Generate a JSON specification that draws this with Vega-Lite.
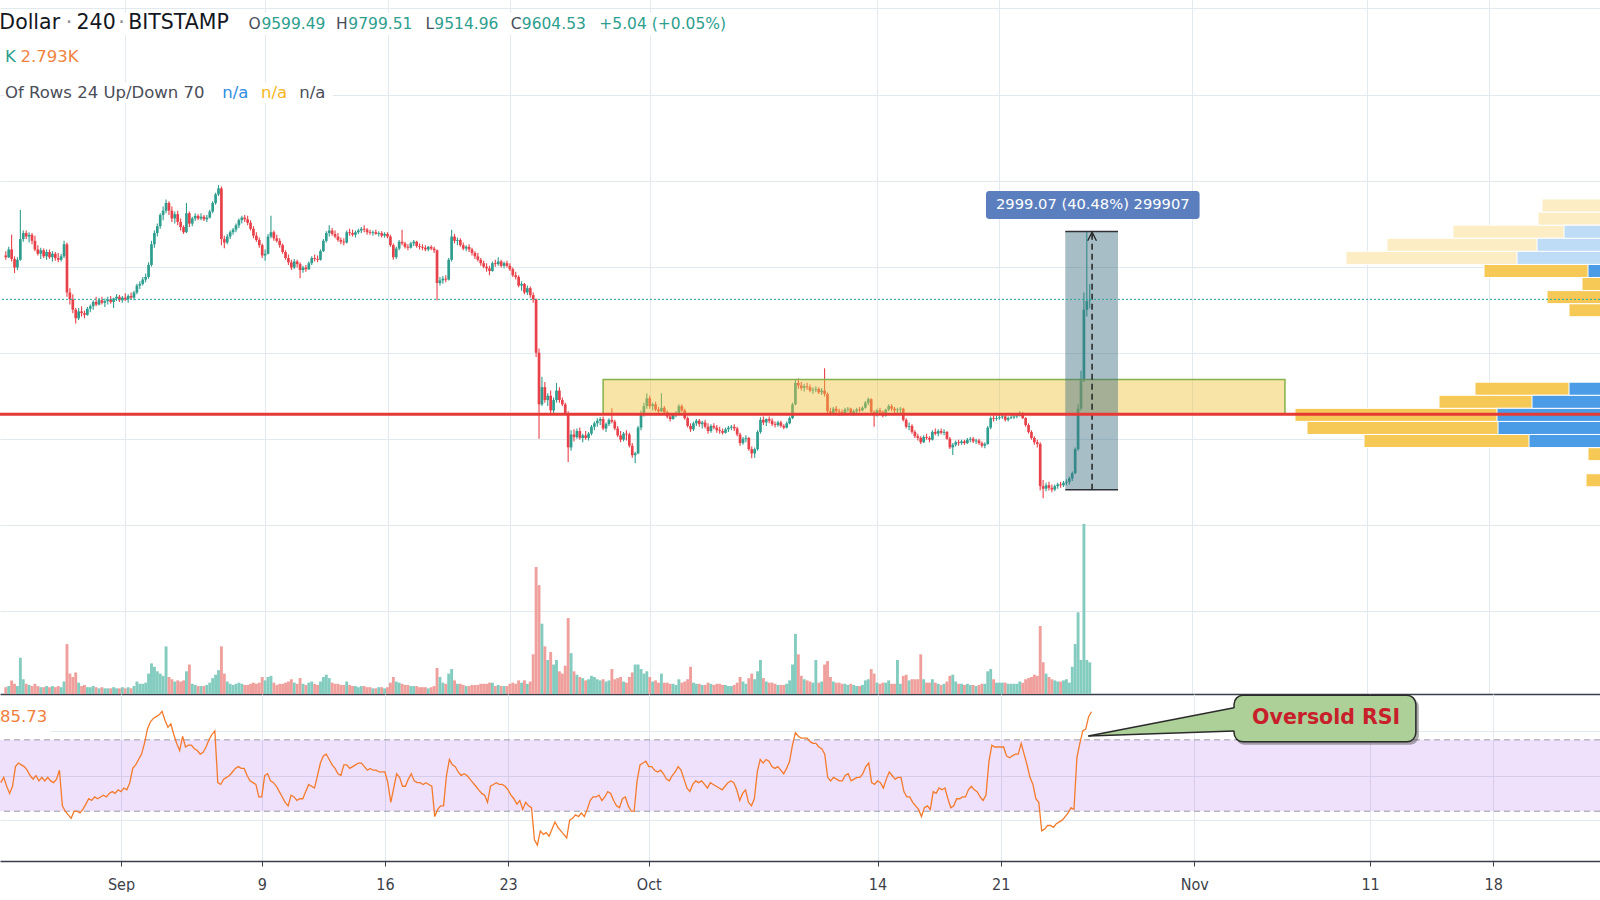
{
"$schema": "https://vega.github.io/schema/vega-lite/v6.json",
"padding": 0,
"spacing": 0,
"background": "#ffffff",
"config": {"view": {"stroke": null}, "font": "DejaVu Sans", "axis": {"minExtent": 0, "gridColor": "#e2e9ef", "gridWidth": 1}},
"datasets": {
"candles": [
{"i":1,"o":10130,"h":10180,"l":10080,"c":10110,"v":600,"r":46},
{"i":2,"o":10110,"h":10230,"l":10100,"c":10200,"v":700,"r":49},
{"i":3,"o":10200,"h":10370,"l":10060,"c":10090,"v":1200,"r":44},
{"i":4,"o":10090,"h":10120,"l":9925,"c":9990,"v":900,"r":40},
{"i":5,"o":9990,"h":10110,"l":9960,"c":10080,"v":700,"r":44},
{"i":6,"o":10080,"h":10657,"l":10070,"c":10320,"v":3200,"r":55},
{"i":7,"o":10320,"h":10420,"l":10290,"c":10390,"v":1300,"r":57},
{"i":8,"o":10390,"h":10420,"l":10320,"c":10350,"v":900,"r":56},
{"i":9,"o":10350,"h":10400,"l":10280,"c":10370,"v":800,"r":55},
{"i":10,"o":10370,"h":10390,"l":10260,"c":10300,"v":700,"r":53},
{"i":11,"o":10300,"h":10360,"l":10180,"c":10200,"v":900,"r":50},
{"i":12,"o":10200,"h":10250,"l":10130,"c":10150,"v":700,"r":48},
{"i":13,"o":10150,"h":10220,"l":10090,"c":10190,"v":600,"r":50},
{"i":14,"o":10190,"h":10210,"l":10100,"c":10120,"v":600,"r":47},
{"i":15,"o":10120,"h":10200,"l":10080,"c":10170,"v":700,"r":49},
{"i":16,"o":10170,"h":10200,"l":10090,"c":10110,"v":600,"r":47},
{"i":17,"o":10110,"h":10180,"l":10060,"c":10150,"v":700,"r":49},
{"i":18,"o":10150,"h":10170,"l":10070,"c":10100,"v":600,"r":47},
{"i":19,"o":10100,"h":10160,"l":10050,"c":10080,"v":700,"r":46},
{"i":20,"o":10080,"h":10150,"l":10060,"c":10120,"v":600,"r":48},
{"i":21,"o":10120,"h":10300,"l":10100,"c":10260,"v":1100,"r":53},
{"i":22,"o":10260,"h":10280,"l":9650,"c":9700,"v":4400,"r":33},
{"i":23,"o":9700,"h":9750,"l":9560,"c":9620,"v":1800,"r":30},
{"i":24,"o":9620,"h":9680,"l":9460,"c":9500,"v":1500,"r":28},
{"i":25,"o":9500,"h":9520,"l":9340,"c":9400,"v":1900,"r":26},
{"i":26,"o":9400,"h":9520,"l":9380,"c":9480,"v":1000,"r":30},
{"i":27,"o":9480,"h":9540,"l":9420,"c":9460,"v":700,"r":30},
{"i":28,"o":9460,"h":9490,"l":9400,"c":9440,"v":800,"r":29},
{"i":29,"o":9440,"h":9530,"l":9430,"c":9510,"v":600,"r":31},
{"i":30,"o":9510,"h":9560,"l":9470,"c":9540,"v":600,"r":34},
{"i":31,"o":9540,"h":9610,"l":9500,"c":9590,"v":700,"r":37},
{"i":32,"o":9590,"h":9650,"l":9540,"c":9560,"v":600,"r":36},
{"i":33,"o":9560,"h":9640,"l":9550,"c":9610,"v":500,"r":38},
{"i":34,"o":9610,"h":9650,"l":9560,"c":9580,"v":600,"r":37},
{"i":35,"o":9580,"h":9630,"l":9530,"c":9600,"v":500,"r":38},
{"i":36,"o":9600,"h":9650,"l":9560,"c":9620,"v":500,"r":39},
{"i":37,"o":9620,"h":9660,"l":9570,"c":9590,"v":500,"r":38},
{"i":38,"o":9590,"h":9640,"l":9520,"c":9630,"v":600,"r":40},
{"i":39,"o":9630,"h":9680,"l":9600,"c":9650,"v":500,"r":41},
{"i":40,"o":9650,"h":9670,"l":9590,"c":9610,"v":500,"r":40},
{"i":41,"o":9610,"h":9660,"l":9580,"c":9640,"v":600,"r":42},
{"i":42,"o":9640,"h":9690,"l":9600,"c":9620,"v":500,"r":41},
{"i":43,"o":9620,"h":9680,"l":9580,"c":9660,"v":600,"r":43},
{"i":44,"o":9660,"h":9700,"l":9620,"c":9640,"v":500,"r":42},
{"i":45,"o":9640,"h":9720,"l":9610,"c":9700,"v":700,"r":46},
{"i":46,"o":9700,"h":9800,"l":9680,"c":9780,"v":1100,"r":54},
{"i":47,"o":9780,"h":9830,"l":9740,"c":9800,"v":900,"r":56},
{"i":48,"o":9800,"h":9880,"l":9780,"c":9850,"v":900,"r":59},
{"i":49,"o":9850,"h":9920,"l":9820,"c":9880,"v":1000,"r":62},
{"i":50,"o":9880,"h":10050,"l":9860,"c":10020,"v":1800,"r":68},
{"i":51,"o":10020,"h":10300,"l":10000,"c":10260,"v":2700,"r":76},
{"i":52,"o":10260,"h":10420,"l":10220,"c":10390,"v":2400,"r":80},
{"i":53,"o":10390,"h":10500,"l":10350,"c":10470,"v":2000,"r":82},
{"i":54,"o":10470,"h":10620,"l":10440,"c":10600,"v":1800,"r":83},
{"i":55,"o":10600,"h":10700,"l":10540,"c":10650,"v":1600,"r":84},
{"i":56,"o":10650,"h":10780,"l":10620,"c":10740,"v":4200,"r":86},
{"i":57,"o":10740,"h":10760,"l":10600,"c":10650,"v":1500,"r":81},
{"i":58,"o":10650,"h":10700,"l":10520,"c":10560,"v":1300,"r":77},
{"i":59,"o":10560,"h":10640,"l":10500,"c":10610,"v":1100,"r":79},
{"i":60,"o":10610,"h":10650,"l":10480,"c":10520,"v":1200,"r":73},
{"i":61,"o":10520,"h":10560,"l":10420,"c":10460,"v":1100,"r":68},
{"i":62,"o":10460,"h":10480,"l":10380,"c":10400,"v":1200,"r":64},
{"i":63,"o":10400,"h":10740,"l":10390,"c":10620,"v":2000,"r":72},
{"i":64,"o":10620,"h":10640,"l":10460,"c":10500,"v":2600,"r":66},
{"i":65,"o":10500,"h":10580,"l":10470,"c":10560,"v":900,"r":67},
{"i":66,"o":10560,"h":10620,"l":10530,"c":10590,"v":800,"r":67},
{"i":67,"o":10590,"h":10610,"l":10540,"c":10560,"v":700,"r":65},
{"i":68,"o":10560,"h":10620,"l":10540,"c":10580,"v":700,"r":64},
{"i":69,"o":10580,"h":10600,"l":10530,"c":10550,"v":700,"r":62},
{"i":70,"o":10550,"h":10600,"l":10520,"c":10570,"v":800,"r":63},
{"i":71,"o":10570,"h":10660,"l":10560,"c":10640,"v":1000,"r":66},
{"i":72,"o":10640,"h":10760,"l":10620,"c":10740,"v":1400,"r":70},
{"i":73,"o":10740,"h":10860,"l":10720,"c":10840,"v":1700,"r":73},
{"i":74,"o":10840,"h":10950,"l":10820,"c":10910,"v":2100,"r":75},
{"i":75,"o":10910,"h":10930,"l":10250,"c":10320,"v":4200,"r":46},
{"i":76,"o":10320,"h":10360,"l":10215,"c":10280,"v":1800,"r":45},
{"i":77,"o":10280,"h":10380,"l":10260,"c":10350,"v":1100,"r":48},
{"i":78,"o":10350,"h":10420,"l":10320,"c":10400,"v":900,"r":49},
{"i":79,"o":10400,"h":10450,"l":10370,"c":10430,"v":800,"r":50},
{"i":80,"o":10430,"h":10500,"l":10400,"c":10480,"v":900,"r":52},
{"i":81,"o":10480,"h":10560,"l":10450,"c":10540,"v":1000,"r":54},
{"i":82,"o":10540,"h":10590,"l":10500,"c":10570,"v":900,"r":55},
{"i":83,"o":10570,"h":10600,"l":10520,"c":10550,"v":800,"r":54},
{"i":84,"o":10550,"h":10590,"l":10480,"c":10510,"v":800,"r":54},
{"i":85,"o":10510,"h":10540,"l":10420,"c":10440,"v":900,"r":50},
{"i":86,"o":10440,"h":10470,"l":10330,"c":10360,"v":1000,"r":47},
{"i":87,"o":10360,"h":10400,"l":10290,"c":10310,"v":900,"r":46},
{"i":88,"o":10310,"h":10340,"l":10220,"c":10250,"v":1000,"r":45},
{"i":89,"o":10250,"h":10270,"l":10100,"c":10130,"v":1500,"r":38},
{"i":90,"o":10130,"h":10200,"l":10070,"c":10150,"v":1200,"r":38},
{"i":91,"o":10150,"h":10380,"l":10140,"c":10350,"v":1500,"r":50},
{"i":92,"o":10350,"h":10590,"l":10330,"c":10400,"v":1600,"r":51},
{"i":93,"o":10400,"h":10420,"l":10300,"c":10330,"v":1000,"r":47},
{"i":94,"o":10330,"h":10370,"l":10280,"c":10300,"v":800,"r":46},
{"i":95,"o":10300,"h":10330,"l":10220,"c":10250,"v":900,"r":44},
{"i":96,"o":10250,"h":10270,"l":10150,"c":10170,"v":900,"r":41},
{"i":97,"o":10170,"h":10190,"l":10080,"c":10100,"v":1000,"r":38},
{"i":98,"o":10100,"h":10140,"l":10020,"c":10050,"v":1100,"r":35},
{"i":99,"o":10050,"h":10080,"l":9960,"c":9990,"v":1300,"r":33},
{"i":100,"o":9990,"h":10090,"l":9970,"c":10060,"v":1000,"r":39},
{"i":101,"o":10060,"h":10080,"l":9990,"c":10030,"v":900,"r":38},
{"i":102,"o":10030,"h":10050,"l":9865,"c":9960,"v":1400,"r":36},
{"i":103,"o":9960,"h":10010,"l":9930,"c":9990,"v":900,"r":37},
{"i":104,"o":9990,"h":10020,"l":9940,"c":9970,"v":800,"r":37},
{"i":105,"o":9970,"h":10060,"l":9960,"c":10040,"v":1000,"r":41},
{"i":106,"o":10040,"h":10120,"l":10020,"c":10100,"v":1100,"r":45},
{"i":107,"o":10100,"h":10140,"l":10060,"c":10090,"v":900,"r":44},
{"i":108,"o":10090,"h":10130,"l":10050,"c":10080,"v":800,"r":43},
{"i":109,"o":10080,"h":10200,"l":10070,"c":10180,"v":1100,"r":50},
{"i":110,"o":10180,"h":10320,"l":10170,"c":10300,"v":1500,"r":57},
{"i":111,"o":10300,"h":10410,"l":10280,"c":10390,"v":1700,"r":61},
{"i":112,"o":10390,"h":10480,"l":10350,"c":10420,"v":1400,"r":62},
{"i":113,"o":10420,"h":10450,"l":10360,"c":10380,"v":1000,"r":59},
{"i":114,"o":10380,"h":10420,"l":10330,"c":10350,"v":900,"r":56},
{"i":115,"o":10350,"h":10390,"l":10290,"c":10310,"v":900,"r":54},
{"i":116,"o":10310,"h":10340,"l":10260,"c":10290,"v":800,"r":51},
{"i":117,"o":10290,"h":10330,"l":10250,"c":10280,"v":800,"r":50},
{"i":118,"o":10280,"h":10420,"l":10270,"c":10400,"v":1100,"r":56},
{"i":119,"o":10400,"h":10440,"l":10360,"c":10390,"v":800,"r":56},
{"i":120,"o":10390,"h":10430,"l":10350,"c":10370,"v":700,"r":54},
{"i":121,"o":10370,"h":10420,"l":10340,"c":10400,"v":700,"r":55},
{"i":122,"o":10400,"h":10440,"l":10380,"c":10420,"v":600,"r":56},
{"i":123,"o":10420,"h":10460,"l":10390,"c":10440,"v":700,"r":57},
{"i":124,"o":10440,"h":10480,"l":10400,"c":10430,"v":700,"r":57},
{"i":125,"o":10430,"h":10450,"l":10370,"c":10400,"v":600,"r":55},
{"i":126,"o":10400,"h":10430,"l":10370,"c":10390,"v":600,"r":53},
{"i":127,"o":10390,"h":10420,"l":10360,"c":10400,"v":500,"r":54},
{"i":128,"o":10400,"h":10430,"l":10370,"c":10380,"v":500,"r":53},
{"i":129,"o":10380,"h":10410,"l":10350,"c":10390,"v":600,"r":53},
{"i":130,"o":10390,"h":10410,"l":10340,"c":10360,"v":600,"r":52},
{"i":131,"o":10360,"h":10400,"l":10340,"c":10380,"v":500,"r":52},
{"i":132,"o":10380,"h":10400,"l":10330,"c":10350,"v":600,"r":52},
{"i":133,"o":10350,"h":10370,"l":10230,"c":10250,"v":1000,"r":46},
{"i":134,"o":10250,"h":10270,"l":10080,"c":10110,"v":1500,"r":35},
{"i":135,"o":10110,"h":10230,"l":10090,"c":10210,"v":1100,"r":43},
{"i":136,"o":10210,"h":10310,"l":10190,"c":10290,"v":1000,"r":51},
{"i":137,"o":10290,"h":10430,"l":10250,"c":10270,"v":900,"r":49},
{"i":138,"o":10270,"h":10290,"l":10210,"c":10230,"v":800,"r":44},
{"i":139,"o":10230,"h":10260,"l":10190,"c":10220,"v":800,"r":44},
{"i":140,"o":10220,"h":10290,"l":10210,"c":10270,"v":700,"r":48},
{"i":141,"o":10270,"h":10310,"l":10240,"c":10290,"v":700,"r":51},
{"i":142,"o":10290,"h":10300,"l":10220,"c":10240,"v":700,"r":47},
{"i":143,"o":10240,"h":10270,"l":10200,"c":10230,"v":600,"r":46},
{"i":144,"o":10230,"h":10260,"l":10190,"c":10220,"v":600,"r":46},
{"i":145,"o":10220,"h":10250,"l":10180,"c":10200,"v":600,"r":45},
{"i":146,"o":10200,"h":10240,"l":10180,"c":10230,"v":500,"r":46},
{"i":147,"o":10230,"h":10250,"l":10190,"c":10210,"v":600,"r":45},
{"i":148,"o":10210,"h":10230,"l":10160,"c":10190,"v":700,"r":44},
{"i":149,"o":10190,"h":10200,"l":9610,"c":9810,"v":2300,"r":27},
{"i":150,"o":9810,"h":9880,"l":9780,"c":9840,"v":1500,"r":31},
{"i":151,"o":9840,"h":9890,"l":9800,"c":9860,"v":1000,"r":33},
{"i":152,"o":9860,"h":9900,"l":9820,"c":9850,"v":900,"r":33},
{"i":153,"o":9850,"h":10100,"l":9840,"c":10080,"v":1800,"r":50},
{"i":154,"o":10080,"h":10430,"l":10060,"c":10350,"v":2200,"r":59},
{"i":155,"o":10350,"h":10380,"l":10270,"c":10300,"v":1200,"r":56},
{"i":156,"o":10300,"h":10340,"l":10250,"c":10310,"v":900,"r":55},
{"i":157,"o":10310,"h":10330,"l":10230,"c":10250,"v":900,"r":52},
{"i":158,"o":10250,"h":10280,"l":10190,"c":10210,"v":800,"r":50},
{"i":159,"o":10210,"h":10250,"l":10180,"c":10230,"v":700,"r":51},
{"i":160,"o":10230,"h":10260,"l":10170,"c":10200,"v":700,"r":50},
{"i":161,"o":10200,"h":10220,"l":10130,"c":10160,"v":800,"r":48},
{"i":162,"o":10160,"h":10180,"l":10090,"c":10120,"v":800,"r":46},
{"i":163,"o":10120,"h":10160,"l":10060,"c":10080,"v":800,"r":44},
{"i":164,"o":10080,"h":10100,"l":10010,"c":10040,"v":900,"r":42},
{"i":165,"o":10040,"h":10070,"l":9980,"c":10000,"v":900,"r":40},
{"i":166,"o":10000,"h":10040,"l":9940,"c":9980,"v":900,"r":39},
{"i":167,"o":9980,"h":10010,"l":9900,"c":9950,"v":1000,"r":35},
{"i":168,"o":9950,"h":10060,"l":9940,"c":10040,"v":1000,"r":44},
{"i":169,"o":10040,"h":10080,"l":10000,"c":10030,"v":700,"r":45},
{"i":170,"o":10030,"h":10110,"l":10010,"c":10060,"v":800,"r":46},
{"i":171,"o":10060,"h":10080,"l":9990,"c":10010,"v":700,"r":45},
{"i":172,"o":10010,"h":10060,"l":9980,"c":10040,"v":700,"r":45},
{"i":173,"o":10040,"h":10070,"l":9990,"c":10010,"v":700,"r":44},
{"i":174,"o":10010,"h":10040,"l":9950,"c":9970,"v":900,"r":42},
{"i":175,"o":9970,"h":9990,"l":9880,"c":9900,"v":1000,"r":39},
{"i":176,"o":9900,"h":9940,"l":9850,"c":9880,"v":900,"r":37},
{"i":177,"o":9880,"h":9900,"l":9760,"c":9780,"v":1200,"r":34},
{"i":178,"o":9780,"h":9830,"l":9720,"c":9800,"v":1000,"r":36},
{"i":179,"o":9800,"h":9810,"l":9680,"c":9700,"v":1200,"r":31},
{"i":180,"o":9700,"h":9780,"l":9670,"c":9750,"v":900,"r":35},
{"i":181,"o":9750,"h":9770,"l":9640,"c":9670,"v":1100,"r":33},
{"i":182,"o":9670,"h":9700,"l":9580,"c":9620,"v":3500,"r":32},
{"i":183,"o":9620,"h":9630,"l":8950,"c":9000,"v":11200,"r":14},
{"i":184,"o":9000,"h":9050,"l":8000,"c":8400,"v":9600,"r":11},
{"i":185,"o":8400,"h":8720,"l":8380,"c":8600,"v":6200,"r":19},
{"i":186,"o":8600,"h":8660,"l":8420,"c":8450,"v":4200,"r":17},
{"i":187,"o":8450,"h":8530,"l":8380,"c":8500,"v":3000,"r":18},
{"i":188,"o":8500,"h":8560,"l":8300,"c":8330,"v":3700,"r":16},
{"i":189,"o":8330,"h":8480,"l":8300,"c":8450,"v":2600,"r":20},
{"i":190,"o":8450,"h":8650,"l":8420,"c":8560,"v":3000,"r":24},
{"i":191,"o":8560,"h":8600,"l":8420,"c":8450,"v":2000,"r":21},
{"i":192,"o":8450,"h":8480,"l":8380,"c":8400,"v":1800,"r":19},
{"i":193,"o":8400,"h":8420,"l":8280,"c":8300,"v":2500,"r":17},
{"i":194,"o":8300,"h":8320,"l":7730,"c":7900,"v":6700,"r":15},
{"i":195,"o":7900,"h":8100,"l":7860,"c":8050,"v":3600,"r":25},
{"i":196,"o":8050,"h":8110,"l":7970,"c":8020,"v":2000,"r":26},
{"i":197,"o":8020,"h":8120,"l":8000,"c":8090,"v":1700,"r":28},
{"i":198,"o":8090,"h":8130,"l":7990,"c":8010,"v":1500,"r":27},
{"i":199,"o":8010,"h":8060,"l":7960,"c":8040,"v":1400,"r":29},
{"i":200,"o":8040,"h":8090,"l":7990,"c":8010,"v":1200,"r":27},
{"i":201,"o":8010,"h":8080,"l":7980,"c":8060,"v":1300,"r":31},
{"i":202,"o":8060,"h":8160,"l":8040,"c":8140,"v":1600,"r":36},
{"i":203,"o":8140,"h":8200,"l":8100,"c":8180,"v":1500,"r":38},
{"i":204,"o":8180,"h":8240,"l":8140,"c":8210,"v":1300,"r":38},
{"i":205,"o":8210,"h":8250,"l":8160,"c":8230,"v":1200,"r":39},
{"i":206,"o":8230,"h":8260,"l":8100,"c":8120,"v":1300,"r":36},
{"i":207,"o":8120,"h":8190,"l":8080,"c":8170,"v":1100,"r":38},
{"i":208,"o":8170,"h":8240,"l":8150,"c":8220,"v":1200,"r":41},
{"i":209,"o":8220,"h":8354,"l":8180,"c":8200,"v":2200,"r":40},
{"i":210,"o":8200,"h":8220,"l":8100,"c":8120,"v":1300,"r":36},
{"i":211,"o":8120,"h":8150,"l":8020,"c":8040,"v":1400,"r":33},
{"i":212,"o":8040,"h":8090,"l":7960,"c":7990,"v":1500,"r":32},
{"i":213,"o":7990,"h":8080,"l":7970,"c":8060,"v":1100,"r":37},
{"i":214,"o":8060,"h":8100,"l":7980,"c":8050,"v":1000,"r":38},
{"i":215,"o":8050,"h":8070,"l":7900,"c":7920,"v":1500,"r":33},
{"i":216,"o":7920,"h":7950,"l":7780,"c":7810,"v":1900,"r":30},
{"i":217,"o":7810,"h":7850,"l":7716,"c":7830,"v":2600,"r":30},
{"i":218,"o":7830,"h":8150,"l":7820,"c":8130,"v":2600,"r":47},
{"i":219,"o":8130,"h":8330,"l":8100,"c":8300,"v":2200,"r":56},
{"i":220,"o":8300,"h":8420,"l":8260,"c":8380,"v":1800,"r":57},
{"i":221,"o":8380,"h":8528,"l":8350,"c":8470,"v":2000,"r":58},
{"i":222,"o":8470,"h":8500,"l":8350,"c":8380,"v":1500,"r":55},
{"i":223,"o":8380,"h":8420,"l":8330,"c":8400,"v":1100,"r":55},
{"i":224,"o":8400,"h":8430,"l":8320,"c":8340,"v":1200,"r":53},
{"i":225,"o":8340,"h":8370,"l":8300,"c":8320,"v":1000,"r":52},
{"i":226,"o":8320,"h":8528,"l":8310,"c":8360,"v":1800,"r":53},
{"i":227,"o":8360,"h":8380,"l":8290,"c":8310,"v":1000,"r":51},
{"i":228,"o":8310,"h":8330,"l":8240,"c":8260,"v":1000,"r":48},
{"i":229,"o":8260,"h":8290,"l":8200,"c":8230,"v":900,"r":47},
{"i":230,"o":8230,"h":8300,"l":8220,"c":8280,"v":900,"r":50},
{"i":231,"o":8280,"h":8320,"l":8250,"c":8300,"v":800,"r":52},
{"i":232,"o":8300,"h":8400,"l":8280,"c":8380,"v":1300,"r":55},
{"i":233,"o":8380,"h":8400,"l":8310,"c":8330,"v":1000,"r":53},
{"i":234,"o":8330,"h":8350,"l":8220,"c":8240,"v":1100,"r":48},
{"i":235,"o":8240,"h":8260,"l":8130,"c":8150,"v":1300,"r":43},
{"i":236,"o":8150,"h":8180,"l":8080,"c":8110,"v":2400,"r":41},
{"i":237,"o":8110,"h":8200,"l":8090,"c":8180,"v":1000,"r":45},
{"i":238,"o":8180,"h":8230,"l":8150,"c":8210,"v":900,"r":47},
{"i":239,"o":8210,"h":8230,"l":8140,"c":8170,"v":900,"r":46},
{"i":240,"o":8170,"h":8210,"l":8120,"c":8190,"v":800,"r":47},
{"i":241,"o":8190,"h":8220,"l":8120,"c":8140,"v":800,"r":45},
{"i":242,"o":8140,"h":8180,"l":8060,"c":8090,"v":1000,"r":43},
{"i":243,"o":8090,"h":8170,"l":8070,"c":8150,"v":900,"r":46},
{"i":244,"o":8150,"h":8180,"l":8110,"c":8130,"v":800,"r":45},
{"i":245,"o":8130,"h":8160,"l":8070,"c":8100,"v":900,"r":44},
{"i":246,"o":8100,"h":8140,"l":8060,"c":8090,"v":900,"r":43},
{"i":247,"o":8090,"h":8120,"l":8050,"c":8070,"v":800,"r":42},
{"i":248,"o":8070,"h":8130,"l":8060,"c":8110,"v":800,"r":44},
{"i":249,"o":8110,"h":8150,"l":8080,"c":8130,"v":700,"r":46},
{"i":250,"o":8130,"h":8160,"l":8100,"c":8140,"v":700,"r":47},
{"i":251,"o":8140,"h":8170,"l":8090,"c":8120,"v":800,"r":46},
{"i":252,"o":8120,"h":8140,"l":8030,"c":8050,"v":1000,"r":42},
{"i":253,"o":8050,"h":8070,"l":7920,"c":7950,"v":1500,"r":36},
{"i":254,"o":7950,"h":8020,"l":7930,"c":8000,"v":1100,"r":40},
{"i":255,"o":8000,"h":8040,"l":7960,"c":8010,"v":900,"r":42},
{"i":256,"o":8010,"h":8020,"l":7860,"c":7880,"v":1400,"r":35},
{"i":257,"o":7880,"h":7910,"l":7773,"c":7830,"v":1800,"r":33},
{"i":258,"o":7830,"h":7900,"l":7780,"c":7880,"v":1300,"r":37},
{"i":259,"o":7880,"h":8100,"l":7860,"c":8080,"v":2000,"r":52},
{"i":260,"o":8080,"h":8250,"l":8060,"c":8220,"v":3000,"r":59},
{"i":261,"o":8220,"h":8260,"l":8160,"c":8190,"v":1400,"r":57},
{"i":262,"o":8190,"h":8240,"l":8150,"c":8230,"v":1100,"r":59},
{"i":263,"o":8230,"h":8260,"l":8180,"c":8210,"v":1000,"r":58},
{"i":264,"o":8210,"h":8240,"l":8150,"c":8170,"v":1000,"r":55},
{"i":265,"o":8170,"h":8200,"l":8130,"c":8160,"v":900,"r":54},
{"i":266,"o":8160,"h":8210,"l":8140,"c":8190,"v":800,"r":55},
{"i":267,"o":8190,"h":8210,"l":8130,"c":8150,"v":800,"r":53},
{"i":268,"o":8150,"h":8170,"l":8110,"c":8130,"v":800,"r":51},
{"i":269,"o":8130,"h":8200,"l":8120,"c":8180,"v":900,"r":54},
{"i":270,"o":8180,"h":8260,"l":8170,"c":8240,"v":1200,"r":58},
{"i":271,"o":8240,"h":8420,"l":8230,"c":8400,"v":2600,"r":67},
{"i":272,"o":8400,"h":8690,"l":8390,"c":8650,"v":5300,"r":74},
{"i":273,"o":8650,"h":8700,"l":8580,"c":8620,"v":3500,"r":72},
{"i":274,"o":8620,"h":8660,"l":8560,"c":8590,"v":1600,"r":71},
{"i":275,"o":8590,"h":8640,"l":8550,"c":8610,"v":1300,"r":71},
{"i":276,"o":8610,"h":8650,"l":8570,"c":8600,"v":1200,"r":71},
{"i":277,"o":8600,"h":8630,"l":8540,"c":8560,"v":1100,"r":69},
{"i":278,"o":8560,"h":8600,"l":8520,"c":8570,"v":1000,"r":68},
{"i":279,"o":8570,"h":8610,"l":8540,"c":8580,"v":3000,"r":68},
{"i":280,"o":8580,"h":8600,"l":8520,"c":8540,"v":1000,"r":66},
{"i":281,"o":8540,"h":8590,"l":8510,"c":8560,"v":1100,"r":65},
{"i":282,"o":8560,"h":8819,"l":8490,"c":8520,"v":2600,"r":62},
{"i":283,"o":8520,"h":8540,"l":8290,"c":8320,"v":2900,"r":49},
{"i":284,"o":8320,"h":8360,"l":8280,"c":8300,"v":1500,"r":47},
{"i":285,"o":8300,"h":8370,"l":8290,"c":8350,"v":1100,"r":49},
{"i":286,"o":8350,"h":8380,"l":8300,"c":8320,"v":1000,"r":48},
{"i":287,"o":8320,"h":8350,"l":8270,"c":8310,"v":1000,"r":47},
{"i":288,"o":8310,"h":8340,"l":8270,"c":8300,"v":900,"r":47},
{"i":289,"o":8300,"h":8360,"l":8290,"c":8340,"v":900,"r":50},
{"i":290,"o":8340,"h":8370,"l":8310,"c":8350,"v":800,"r":51},
{"i":291,"o":8350,"h":8360,"l":8280,"c":8300,"v":900,"r":47},
{"i":292,"o":8300,"h":8340,"l":8270,"c":8320,"v":800,"r":48},
{"i":293,"o":8320,"h":8360,"l":8300,"c":8340,"v":700,"r":49},
{"i":294,"o":8340,"h":8370,"l":8310,"c":8330,"v":700,"r":49},
{"i":295,"o":8330,"h":8380,"l":8320,"c":8360,"v":800,"r":51},
{"i":296,"o":8360,"h":8440,"l":8350,"c":8420,"v":1200,"r":55},
{"i":297,"o":8420,"h":8480,"l":8390,"c":8460,"v":1300,"r":57},
{"i":298,"o":8460,"h":8470,"l":8290,"c":8310,"v":2200,"r":46},
{"i":299,"o":8310,"h":8330,"l":8141,"c":8300,"v":1800,"r":45},
{"i":300,"o":8300,"h":8350,"l":8260,"c":8330,"v":1000,"r":47},
{"i":301,"o":8330,"h":8360,"l":8290,"c":8310,"v":900,"r":46},
{"i":302,"o":8310,"h":8330,"l":8250,"c":8270,"v":1000,"r":43},
{"i":303,"o":8270,"h":8350,"l":8260,"c":8340,"v":1000,"r":48},
{"i":304,"o":8340,"h":8400,"l":8320,"c":8380,"v":1200,"r":52},
{"i":305,"o":8380,"h":8400,"l":8320,"c":8350,"v":900,"r":50},
{"i":306,"o":8350,"h":8370,"l":8300,"c":8330,"v":900,"r":48},
{"i":307,"o":8330,"h":8360,"l":8280,"c":8340,"v":3000,"r":49},
{"i":308,"o":8340,"h":8370,"l":8300,"c":8350,"v":900,"r":49},
{"i":309,"o":8350,"h":8360,"l":8200,"c":8220,"v":1600,"r":41},
{"i":310,"o":8220,"h":8240,"l":8120,"c":8140,"v":1700,"r":38},
{"i":311,"o":8140,"h":8190,"l":8100,"c":8150,"v":1200,"r":38},
{"i":312,"o":8150,"h":8170,"l":8060,"c":8080,"v":1300,"r":35},
{"i":313,"o":8080,"h":8100,"l":8010,"c":8030,"v":1300,"r":33},
{"i":314,"o":8030,"h":8060,"l":7980,"c":8010,"v":1300,"r":31},
{"i":315,"o":8010,"h":8030,"l":7940,"c":7960,"v":3500,"r":27},
{"i":316,"o":7960,"h":8040,"l":7950,"c":8020,"v":1300,"r":32},
{"i":317,"o":8020,"h":8060,"l":7990,"c":8010,"v":1000,"r":33},
{"i":318,"o":8010,"h":8030,"l":7960,"c":7990,"v":1000,"r":31},
{"i":319,"o":7990,"h":8100,"l":7980,"c":8080,"v":1300,"r":41},
{"i":320,"o":8080,"h":8120,"l":8040,"c":8060,"v":1000,"r":40},
{"i":321,"o":8060,"h":8110,"l":8030,"c":8090,"v":900,"r":43},
{"i":322,"o":8090,"h":8120,"l":8050,"c":8070,"v":800,"r":42},
{"i":323,"o":8070,"h":8110,"l":8040,"c":8080,"v":900,"r":43},
{"i":324,"o":8080,"h":8090,"l":7990,"c":8000,"v":1100,"r":37},
{"i":325,"o":8000,"h":8020,"l":7880,"c":7900,"v":1600,"r":32},
{"i":326,"o":7900,"h":7950,"l":7812,"c":7930,"v":1700,"r":33},
{"i":327,"o":7930,"h":7980,"l":7910,"c":7960,"v":1100,"r":37},
{"i":328,"o":7960,"h":7990,"l":7920,"c":7950,"v":900,"r":37},
{"i":329,"o":7950,"h":7990,"l":7930,"c":7970,"v":900,"r":38},
{"i":330,"o":7970,"h":7990,"l":7930,"c":7950,"v":800,"r":38},
{"i":331,"o":7950,"h":8010,"l":7940,"c":7990,"v":900,"r":42},
{"i":332,"o":7990,"h":8020,"l":7960,"c":8000,"v":800,"r":44},
{"i":333,"o":8000,"h":8020,"l":7950,"c":7970,"v":800,"r":42},
{"i":334,"o":7970,"h":8000,"l":7940,"c":7980,"v":700,"r":41},
{"i":335,"o":7980,"h":8000,"l":7930,"c":7950,"v":800,"r":38},
{"i":336,"o":7950,"h":7970,"l":7900,"c":7920,"v":900,"r":36},
{"i":337,"o":7920,"h":7960,"l":7890,"c":7940,"v":900,"r":39},
{"i":338,"o":7940,"h":8150,"l":7930,"c":8130,"v":2000,"r":58},
{"i":339,"o":8130,"h":8260,"l":8110,"c":8240,"v":2200,"r":67},
{"i":340,"o":8240,"h":8270,"l":8200,"c":8230,"v":1300,"r":66},
{"i":341,"o":8230,"h":8270,"l":8210,"c":8240,"v":1000,"r":66},
{"i":342,"o":8240,"h":8280,"l":8220,"c":8250,"v":1000,"r":66},
{"i":343,"o":8250,"h":8300,"l":8230,"c":8260,"v":1000,"r":66},
{"i":344,"o":8260,"h":8280,"l":8200,"c":8220,"v":1000,"r":61},
{"i":345,"o":8220,"h":8260,"l":8200,"c":8240,"v":900,"r":60},
{"i":346,"o":8240,"h":8280,"l":8230,"c":8250,"v":900,"r":61},
{"i":347,"o":8250,"h":8290,"l":8230,"c":8260,"v":900,"r":62},
{"i":348,"o":8260,"h":8290,"l":8240,"c":8270,"v":900,"r":62},
{"i":349,"o":8270,"h":8320,"l":8260,"c":8300,"v":1100,"r":68},
{"i":350,"o":8300,"h":8310,"l":8230,"c":8240,"v":1000,"r":62},
{"i":351,"o":8240,"h":8250,"l":8140,"c":8160,"v":1300,"r":56},
{"i":352,"o":8160,"h":8180,"l":8060,"c":8080,"v":1400,"r":49},
{"i":353,"o":8080,"h":8100,"l":7990,"c":8010,"v":1500,"r":45},
{"i":354,"o":8010,"h":8030,"l":7930,"c":7960,"v":1700,"r":37},
{"i":355,"o":7960,"h":7990,"l":7900,"c":7940,"v":1600,"r":35},
{"i":356,"o":7940,"h":7960,"l":7400,"c":7450,"v":6000,"r":19},
{"i":357,"o":7450,"h":7520,"l":7309,"c":7420,"v":2800,"r":20},
{"i":358,"o":7420,"h":7490,"l":7390,"c":7460,"v":1800,"r":22},
{"i":359,"o":7460,"h":7500,"l":7400,"c":7430,"v":1500,"r":22},
{"i":360,"o":7430,"h":7470,"l":7380,"c":7410,"v":1300,"r":21},
{"i":361,"o":7410,"h":7470,"l":7390,"c":7450,"v":1200,"r":23},
{"i":362,"o":7450,"h":7490,"l":7420,"c":7470,"v":1100,"r":24},
{"i":363,"o":7470,"h":7500,"l":7430,"c":7460,"v":1100,"r":25},
{"i":364,"o":7460,"h":7510,"l":7440,"c":7490,"v":1200,"r":27},
{"i":365,"o":7490,"h":7530,"l":7460,"c":7500,"v":1300,"r":29},
{"i":366,"o":7500,"h":7560,"l":7470,"c":7540,"v":1000,"r":32},
{"i":367,"o":7540,"h":7620,"l":7510,"c":7600,"v":2400,"r":31},
{"i":368,"o":7600,"h":7900,"l":7590,"c":7880,"v":4400,"r":60},
{"i":369,"o":7880,"h":8400,"l":7860,"c":8350,"v":7200,"r":68},
{"i":370,"o":8350,"h":8790,"l":8330,"c":8680,"v":3000,"r":75},
{"i":371,"o":8680,"h":9700,"l":8660,"c":9500,"v":15000,"r":76},
{"i":372,"o":9500,"h":10408,"l":9420,"c":9599,"v":3000,"r":83},
{"i":373,"o":9599.49,"h":9799.51,"l":9514.96,"c":9604.53,"v":2793,"r":85.73}
],
"vp": [
{"lo":7290,"hi":7442,"up":2000,"tot":3000,"va":1},
{"lo":7442,"hi":7594,"up":3000,"tot":5400,"va":1},
{"lo":7594,"hi":7746,"up":1500,"tot":2500,"va":1},
{"lo":7746,"hi":7898,"up":3000,"tot":5200,"va":1},
{"lo":7898,"hi":8050,"up":11100,"tot":27600,"va":1},
{"lo":8050,"hi":8202,"up":14200,"tot":33300,"va":1},
{"lo":8202,"hi":8354,"up":14300,"tot":34500,"va":1},
{"lo":8354,"hi":8506,"up":10800,"tot":20100,"va":1},
{"lo":8506,"hi":8658,"up":7100,"tot":16500,"va":1},
{"lo":8658,"hi":8810,"up":1500,"tot":2800,"va":1},
{"lo":8810,"hi":8962,"up":1000,"tot":1800,"va":1},
{"lo":8962,"hi":9114,"up":1000,"tot":1500,"va":1},
{"lo":9114,"hi":9266,"up":1200,"tot":2000,"va":1},
{"lo":9266,"hi":9418,"up":1500,"tot":2800,"va":1},
{"lo":9418,"hi":9570,"up":3000,"tot":7100,"va":1},
{"lo":9570,"hi":9722,"up":3000,"tot":9300,"va":1},
{"lo":9722,"hi":9874,"up":3000,"tot":5800,"va":1},
{"lo":9874,"hi":10026,"up":5200,"tot":15600,"va":1},
{"lo":10026,"hi":10178,"up":12300,"tot":29400,"va":0},
{"lo":10178,"hi":10330,"up":10300,"tot":25300,"va":0},
{"lo":10330,"hi":10482,"up":7600,"tot":18700,"va":0},
{"lo":10482,"hi":10634,"up":3000,"tot":10200,"va":0},
{"lo":10634,"hi":10786,"up":3000,"tot":9800,"va":0},
{"lo":10786,"hi":10938,"up":1000,"tot":2000,"va":0}
],
"notes": [
{"t":"O","i":84.29,"p":12822,"k":"lab"},
{"t":"9599.49","i":88.72,"p":12822,"k":"val"},
{"t":"H","i":114.3,"p":12822,"k":"lab"},
{"t":"9799.51","i":118.57,"p":12822,"k":"val"},
{"t":"L","i":145.0,"p":12822,"k":"lab"},
{"t":"9514.96","i":148.07,"p":12822,"k":"val"},
{"t":"C","i":174.33,"p":12822,"k":"lab"},
{"t":"9604.53","i":178.08,"p":12822,"k":"val"},
{"t":"+5.04 (+0.05%)","i":204.69,"p":12822,"k":"val"}
],
"notes2": [
{"t":"K","i":0.73,"p":12435,"k":"val"},
{"t":"2.793K","i":6.09,"p":12435,"k":"vol"},
{"t":"Of Rows 24 Up/Down 70","i":0.73,"p":12019,"k":"lab"},
{"t":"n/a","i":75.3,"p":12019,"k":"up"},
{"t":"n/a","i":88.6,"p":12019,"k":"down"},
{"t":"n/a","i":101.7,"p":12019,"k":"lab"}
],
"title": [
{"t":"Dollar","i":-1.21,"p":12833,"k":"t"},
{"t":"·","i":21.6,"p":12833,"k":"d"},
{"t":"240","i":25.29,"p":12833,"k":"t"},
{"t":"·","i":39.6,"p":12833,"k":"d"},
{"t":"BITSTAMP","i":43.02,"p":12833,"k":"t"}
]
},
"vconcat": [
{
"width": 1600,
"height": 694,
"resolve": {"scale": {"x": "independent", "y": "independent"}},
"layer": [
{
"data": {"name": "candles"},
"mark": {"type": "bar", "orient": "vertical", "size": 2.9, "clip": true},
"encoding": {
"x": {"field": "i", "type": "quantitative", "title": null, "scale": {"domain": [0.73, 546.4], "nice": false, "zero": false}, "axis": null},
"y": {"field": "v", "type": "quantitative", "title": null, "scale": {"domain": [0, 61200], "nice": false}, "axis": null},
"color": {"condition": {"test": "datum.c >= datum.o", "value": "#84ccbf"}, "value": "#efa09d"}
}
},
{
"data": {"name": "vp"},
"layer": [
{
"mark": {"type": "rect", "clip": true, "stroke": "#ffffff", "strokeWidth": 1},
"encoding": {
"x": {"field": "tot", "type": "quantitative", "title": null, "scale": {"domain": [4000, 164000], "reverse": true, "nice": false, "zero": false}, "axis": null},
"x2": {"datum": 0},
"y": {"field": "lo", "type": "quantitative", "title": null, "scale": {"domain": [5035, 13098], "nice": false, "zero": false}, "axis": null},
"y2": {"field": "hi"},
"color": {"condition": {"test": "datum.va == 1", "value": "#f6c957"}, "value": "#fcedc4"}
}
},
{
"mark": {"type": "rect", "clip": true, "stroke": "#ffffff", "strokeWidth": 1},
"encoding": {
"x": {"field": "up", "type": "quantitative", "title": null, "scale": {"domain": [4000, 164000], "reverse": true, "nice": false, "zero": false}, "axis": null},
"x2": {"datum": 0},
"y": {"field": "lo", "type": "quantitative", "title": null, "scale": {"domain": [5035, 13098], "nice": false, "zero": false}, "axis": null},
"y2": {"field": "hi"},
"color": {"condition": {"test": "datum.va == 1", "value": "#4a9ce6"}, "value": "#bedcf6"}
}
}
]
},
{
"layer": [
{
"data": {"name": "candles"},
"mark": {"type": "rule", "strokeWidth": 1.1, "clip": true},
"encoding": {
"x": {"field": "i", "type": "quantitative", "title": null, "scale": {"domain": [0.73, 546.4], "nice": false, "zero": false},
"axis": {"orient": "bottom", "values": [42, 90, 132, 174, 222, 300, 342, 408, 468, 510], "grid": true, "labels": false, "ticks": false, "domain": true, "domainColor": "#3a3e4a", "domainWidth": 1.5, "title": null}},
"y": {"field": "l", "type": "quantitative", "title": null, "scale": {"domain": [5035, 13098], "nice": false, "zero": false},
"axis": {"orient": "left", "values": [6000, 7000, 8000, 9000, 10000, 11000, 12000, 13000], "grid": true, "labels": false, "ticks": false, "domain": false, "title": null}},
"y2": {"field": "h"},
"color": {"condition": {"test": "datum.c >= datum.o", "value": "#2f9e8f"}, "value": "#e8414a"}
}
},
{
"data": {"name": "candles"},
"mark": {"type": "bar", "size": 2.7, "clip": true},
"encoding": {
"x": {"field": "i", "type": "quantitative", "title": null, "scale": {"domain": [0.73, 546.4], "nice": false, "zero": false}},
"y": {"field": "o", "type": "quantitative", "title": null, "scale": {"domain": [5035, 13098], "nice": false, "zero": false}},
"y2": {"field": "c"},
"color": {"condition": {"test": "datum.c >= datum.o", "value": "#2f9e8f"}, "value": "#e8414a"}
}
},
{
"data": {"values": [{"x0": 206, "x1": 440, "lo": 8285, "hi": 8688}]},
"mark": {"type": "rect", "fill": "#f0c43c", "fillOpacity": 0.45, "stroke": "#86b04c", "strokeWidth": 1.5},
"encoding": {
"x": {"field": "x0", "type": "quantitative", "title": null, "scale": {"domain": [0.73, 546.4], "nice": false, "zero": false}},
"x2": {"field": "x1"},
"y": {"field": "lo", "type": "quantitative", "title": null, "scale": {"domain": [5035, 13098], "nice": false, "zero": false}},
"y2": {"field": "hi"}
}
},
{
"data": {"values": [{"x0": 364.6, "x1": 382.7, "lo": 7409, "hi": 10408}]},
"mark": {"type": "rect", "fill": "#3d6e80", "fillOpacity": 0.45},
"encoding": {
"x": {"field": "x0", "type": "quantitative", "title": null, "scale": {"domain": [0.73, 546.4], "nice": false, "zero": false}},
"x2": {"field": "x1"},
"y": {"field": "lo", "type": "quantitative", "title": null, "scale": {"domain": [5035, 13098], "nice": false, "zero": false}},
"y2": {"field": "hi"}
}
},
{
"data": {"values": [{"x0": 364.6, "x1": 382.7, "p": 7409}, {"x0": 364.6, "x1": 382.7, "p": 10408}]},
"mark": {"type": "rule", "stroke": "#2f3136", "strokeWidth": 1.5},
"encoding": {
"x": {"field": "x0", "type": "quantitative", "title": null, "scale": {"domain": [0.73, 546.4], "nice": false, "zero": false}},
"x2": {"field": "x1"},
"y": {"field": "p", "type": "quantitative", "title": null, "scale": {"domain": [5035, 13098], "nice": false, "zero": false}}
}
},
{
"data": {"values": [{"x": 373.8, "lo": 7409, "hi": 10400}]},
"mark": {"type": "rule", "stroke": "#222222", "strokeWidth": 1.5, "strokeDash": [6, 4]},
"encoding": {
"x": {"field": "x", "type": "quantitative", "title": null, "scale": {"domain": [0.73, 546.4], "nice": false, "zero": false}},
"y": {"field": "lo", "type": "quantitative", "title": null, "scale": {"domain": [5035, 13098], "nice": false, "zero": false}},
"y2": {"field": "hi"}
}
},
{
"data": {"values": [{"x": 372.3, "p": 10300}, {"x": 373.8, "p": 10400}, {"x": 375.3, "p": 10300}]},
"mark": {"type": "line", "stroke": "#222222", "strokeWidth": 1.3},
"encoding": {
"x": {"field": "x", "type": "quantitative", "title": null, "scale": {"domain": [0.73, 546.4], "nice": false, "zero": false}},
"y": {"field": "p", "type": "quantitative", "title": null, "scale": {"domain": [5035, 13098], "nice": false, "zero": false}}
}
},
{
"data": {"values": [{"x0": 337.4, "x1": 410.7, "lo": 10554, "hi": 10879}]},
"mark": {"type": "rect", "fill": "#5b7fbe", "cornerRadius": 3},
"encoding": {
"x": {"field": "x0", "type": "quantitative", "title": null, "scale": {"domain": [0.73, 546.4], "nice": false, "zero": false}},
"x2": {"field": "x1"},
"y": {"field": "lo", "type": "quantitative", "title": null, "scale": {"domain": [5035, 13098], "nice": false, "zero": false}},
"y2": {"field": "hi"}
}
},
{
"data": {"values": [{"t": "2999.07 (40.48%) 299907", "x": 374.05, "p": 10716}]},
"mark": {"type": "text", "align": "center", "baseline": "middle", "fontSize": 14.7, "fill": "#ffffff", "font": "DejaVu Sans"},
"encoding": {
"x": {"field": "x", "type": "quantitative", "title": null, "scale": {"domain": [0.73, 546.4], "nice": false, "zero": false}},
"y": {"field": "p", "type": "quantitative", "title": null, "scale": {"domain": [5035, 13098], "nice": false, "zero": false}},
"text": {"field": "t"}
}
},
{
"data": {"values": [{"p": 8285}]},
"mark": {"type": "rule", "stroke": "#e53935", "strokeWidth": 3, "clip": true},
"encoding": {
"y": {"field": "p", "type": "quantitative", "title": null, "scale": {"domain": [5035, 13098], "nice": false, "zero": false}}
}
},
{
"data": {"values": [{"p": 9620}]},
"mark": {"type": "rule", "stroke": "#26a69a", "strokeWidth": 1, "strokeDash": [2, 2], "clip": true},
"encoding": {
"y": {"field": "p", "type": "quantitative", "title": null, "scale": {"domain": [5035, 13098], "nice": false, "zero": false}}
}
},
{
"data": {"values": [{"x0": 0.73, "x1": 248, "lo": 12690, "hi": 12950}, {"x0": 0.73, "x1": 28.5, "lo": 12310, "hi": 12560}, {"x0": 0.73, "x1": 113.3, "lo": 11900, "hi": 12140}]},
"mark": {"type": "rect", "fill": "#ffffff", "clip": true},
"encoding": {
"x": {"field": "x0", "type": "quantitative", "title": null, "scale": {"domain": [0.73, 546.4], "nice": false, "zero": false}},
"x2": {"field": "x1"},
"y": {"field": "lo", "type": "quantitative", "title": null, "scale": {"domain": [5035, 13098], "nice": false, "zero": false}},
"y2": {"field": "hi"}
}
},
{
"data": {"name": "title"},
"mark": {"type": "text", "align": "left", "baseline": "middle", "fontSize": 20.5, "font": "DejaVu Sans", "clip": true},
"encoding": {
"x": {"field": "i", "type": "quantitative", "title": null, "scale": {"domain": [0.73, 546.4], "nice": false, "zero": false}},
"y": {"field": "p", "type": "quantitative", "title": null, "scale": {"domain": [5035, 13098], "nice": false, "zero": false}},
"text": {"field": "t"},
"color": {"condition": {"test": "datum.k == 'd'", "value": "#8a8d96"}, "value": "#131722"}
}
},
{
"data": {"name": "notes"},
"mark": {"type": "text", "align": "left", "baseline": "middle", "fontSize": 15.5, "font": "DejaVu Sans", "clip": true},
"encoding": {
"x": {"field": "i", "type": "quantitative", "title": null, "scale": {"domain": [0.73, 546.4], "nice": false, "zero": false}},
"y": {"field": "p", "type": "quantitative", "title": null, "scale": {"domain": [5035, 13098], "nice": false, "zero": false}},
"text": {"field": "t"},
"color": {"field": "k", "type": "nominal", "legend": null, "scale": {"domain": ["lab", "val", "vol", "up", "down"], "range": ["#4a4d58", "#2e9e8e", "#f0843f", "#2f8de4", "#f6b622"]}}
}
},
{
"data": {"name": "notes2"},
"mark": {"type": "text", "align": "left", "baseline": "middle", "fontSize": 16.5, "font": "DejaVu Sans", "clip": true},
"encoding": {
"x": {"field": "i", "type": "quantitative", "title": null, "scale": {"domain": [0.73, 546.4], "nice": false, "zero": false}},
"y": {"field": "p", "type": "quantitative", "title": null, "scale": {"domain": [5035, 13098], "nice": false, "zero": false}},
"text": {"field": "t"},
"color": {"field": "k", "type": "nominal", "legend": null, "scale": {"domain": ["lab", "val", "vol", "up", "down"], "range": ["#4a4d58", "#2e9e8e", "#f0843f", "#2f8de4", "#f6b622"]}}
}
}
]
}
]
},
{
"width": 1600,
"height": 167,
"layer": [
{
"data": {"values": [{"x0": 0.73, "x1": 546.4, "lo": 30, "hi": 70}]},
"mark": {"type": "rect", "fill": "#9b3ce6", "fillOpacity": 0.16, "clip": true},
"encoding": {
"x": {"field": "x0", "type": "quantitative", "title": null, "scale": {"domain": [0.73, 546.4], "nice": false, "zero": false},
"axis": {"orient": "bottom", "values": [42, 90, 132, 174, 222, 300, 342, 408, 468, 510], "grid": true, "labels": true, "labelExpr": "datum.value==42?'Sep':datum.value==90?'9':datum.value==132?'16':datum.value==174?'23':datum.value==222?'Oct':datum.value==300?'14':datum.value==342?'21':datum.value==408?'Nov':datum.value==468?'11':'18'", "labelFont": "Liberation Sans Narrow, DejaVu Sans Condensed, Roboto Condensed, Roboto", "labelFontSize": 16, "labelColor": "#3c3f4a", "labelPadding": 10, "labelFlush": false, "labelOverlap": false, "ticks": true, "tickSize": 5, "tickColor": "#3a3e4a", "domain": true, "domainColor": "#3a3e4a", "domainWidth": 1.5, "title": null}},
"x2": {"field": "x1"},
"y": {"field": "lo", "type": "quantitative", "title": null, "scale": {"domain": [2.1, 95.7], "nice": false, "zero": false},
"axis": {"orient": "left", "values": [25, 50, 75], "grid": true, "labels": false, "ticks": false, "domain": false, "title": null}},
"y2": {"field": "hi"}
}
},
{
"data": {"values": [{"p": 70}, {"p": 30}]},
"mark": {"type": "rule", "stroke": "#9a9ca5", "strokeWidth": 1, "strokeDash": [6, 4], "clip": true},
"encoding": {
"y": {"field": "p", "type": "quantitative", "title": null, "scale": {"domain": [2.1, 95.7], "nice": false, "zero": false}}
}
},
{
"data": {"name": "candles"},
"mark": {"type": "line", "stroke": "#f47b2c", "strokeWidth": 1.3, "clip": true},
"encoding": {
"x": {"field": "i", "type": "quantitative", "title": null, "scale": {"domain": [0.73, 546.4], "nice": false, "zero": false}},
"y": {"field": "r", "type": "quantitative", "title": null, "scale": {"domain": [2.1, 95.7], "nice": false, "zero": false}}
}
},
{
"data": {"values": [{"x0": 422.1, "x1": 484.6, "lo": 67.2, "hi": 93.5}]},
"mark": {"type": "rect", "fill": "#555555", "fillOpacity": 0.5, "cornerRadius": 9, "clip": true},
"encoding": {
"x": {"field": "x0", "type": "quantitative", "title": null, "scale": {"domain": [0.73, 546.4], "nice": false, "zero": false}},
"x2": {"field": "x1"},
"y": {"field": "lo", "type": "quantitative", "title": null, "scale": {"domain": [2.1, 95.7], "nice": false, "zero": false}},
"y2": {"field": "hi"}
}
},
{
"data": {"values": [{"x0": 421.6, "x1": 483.6, "lo": 68.9, "hi": 95.0}]},
"mark": {"type": "rect", "fill": "#acd098", "stroke": "#2a2a2a", "strokeWidth": 1.5, "cornerRadius": 9, "clip": true},
"encoding": {
"x": {"field": "x0", "type": "quantitative", "title": null, "scale": {"domain": [0.73, 546.4], "nice": false, "zero": false}},
"x2": {"field": "x1"},
"y": {"field": "lo", "type": "quantitative", "title": null, "scale": {"domain": [2.1, 95.7], "nice": false, "zero": false}},
"y2": {"field": "hi"}
}
},
{
"data": {"values": [{"x": 371.9, "a": 72.1, "b": 72.1}, {"x": 422.6, "a": 88.2, "b": 75.1}]},
"mark": {"type": "area", "fill": "#acd098", "orient": "vertical"},
"encoding": {
"x": {"field": "x", "type": "quantitative", "title": null, "scale": {"domain": [0.73, 546.4], "nice": false, "zero": false}},
"y": {"field": "a", "type": "quantitative", "title": null, "scale": {"domain": [2.1, 95.7], "nice": false, "zero": false}},
"y2": {"field": "b"}
}
},
{
"data": {"values": [{"x0": 371.9, "y0": 72.1, "x1": 421.6, "y1": 88.0}, {"x0": 371.9, "y0": 72.1, "x1": 421.6, "y1": 75.0}]},
"mark": {"type": "rule", "stroke": "#2a2a2a", "strokeWidth": 1.5},
"encoding": {
"x": {"field": "x0", "type": "quantitative", "title": null, "scale": {"domain": [0.73, 546.4], "nice": false, "zero": false}},
"x2": {"field": "x1"},
"y": {"field": "y0", "type": "quantitative", "title": null, "scale": {"domain": [2.1, 95.7], "nice": false, "zero": false}},
"y2": {"field": "y1"}
}
},
{
"data": {"values": [{"t": "Oversold RSI", "x": 453.0, "r": 82.0}]},
"mark": {"type": "text", "align": "center", "baseline": "middle", "fontSize": 20.5, "fontWeight": "bold", "fill": "#c8202a", "font": "DejaVu Sans"},
"encoding": {
"x": {"field": "x", "type": "quantitative", "title": null, "scale": {"domain": [0.73, 546.4], "nice": false, "zero": false}},
"y": {"field": "r", "type": "quantitative", "title": null, "scale": {"domain": [2.1, 95.7], "nice": false, "zero": false}},
"text": {"field": "t"}
}
},
{
"data": {"values": [{"x0": 0.73, "x1": 18, "lo": 73.5, "hi": 92}]},
"mark": {"type": "rect", "fill": "#ffffff", "clip": true},
"encoding": {
"x": {"field": "x0", "type": "quantitative", "title": null, "scale": {"domain": [0.73, 546.4], "nice": false, "zero": false}},
"x2": {"field": "x1"},
"y": {"field": "lo", "type": "quantitative", "title": null, "scale": {"domain": [2.1, 95.7], "nice": false, "zero": false}},
"y2": {"field": "hi"}
}
},
{
"data": {"values": [{"t": "85.73", "x": 0.73, "r": 82.6}]},
"mark": {"type": "text", "align": "left", "baseline": "middle", "fontSize": 16.5, "fill": "#f07f3c", "font": "DejaVu Sans", "clip": true},
"encoding": {
"x": {"field": "x", "type": "quantitative", "title": null, "scale": {"domain": [0.73, 546.4], "nice": false, "zero": false}},
"y": {"field": "r", "type": "quantitative", "title": null, "scale": {"domain": [2.1, 95.7], "nice": false, "zero": false}},
"text": {"field": "t"}
}
}
]
}
]
}
